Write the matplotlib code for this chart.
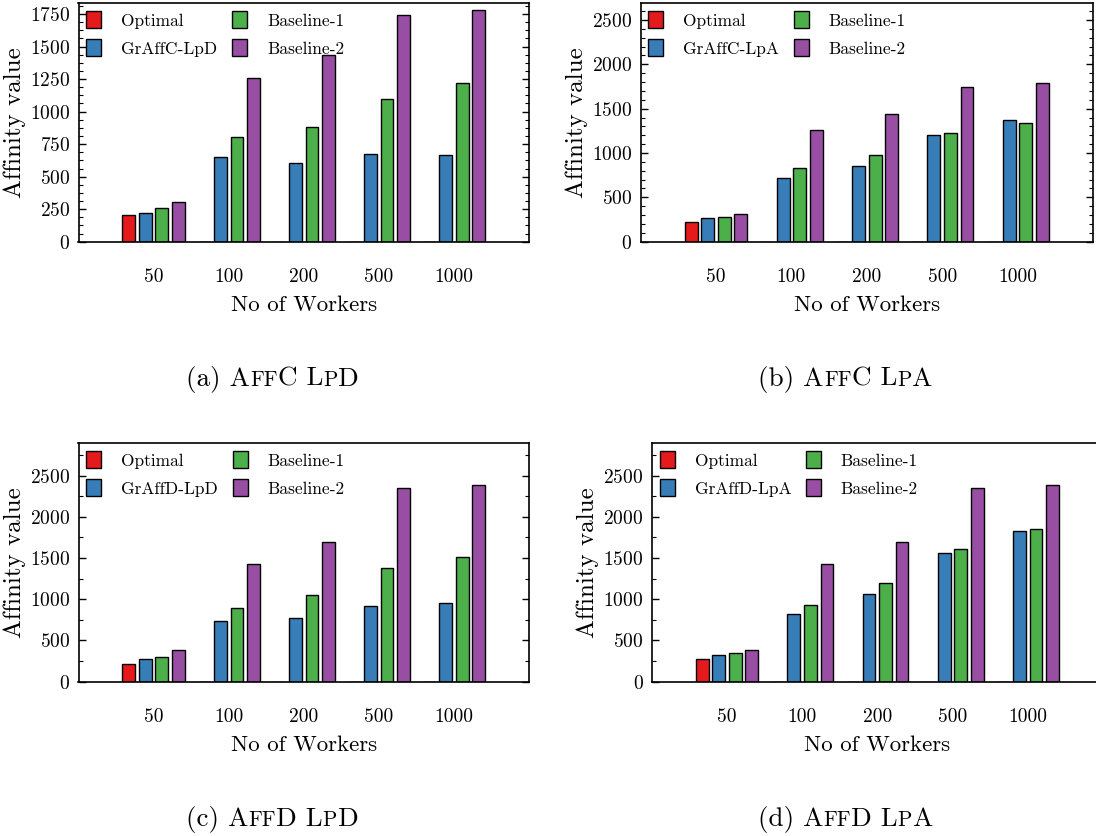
#!/usr/bin/env python3
"""
Affinity values of the four assignment variants for a growing number of workers.
"""

import matplotlib
matplotlib.use("Agg")
import matplotlib.pyplot as plt
from matplotlib.ticker import MultipleLocator, AutoMinorLocator

plt.rcParams['font.family'] = ['cmr10', 'DejaVu Serif']
plt.rcParams['mathtext.fontset'] = 'cm'
plt.rcParams['axes.formatter.use_mathtext'] = True

# Données
workers = ['50', '100', '200', '500', '1000']
series_colors = ['#e41a1c', '#377eb8', '#4daf4a', '#984ea3']

affc_lpd_labels = ['Optimal', 'GrAffC-LpD', 'Baseline-1', 'Baseline-2']
affc_lpd_optimal = [205, 0, 0, 0, 0]
affc_lpd_greedy = [218, 653, 607, 671, 666]
affc_lpd_base1 = [256, 802, 881, 1099, 1217]
affc_lpd_base2 = [305, 1258, 1432, 1742, 1781]

affc_lpa_labels = ['Optimal', 'GrAffC-LpA', 'Baseline-1', 'Baseline-2']
affc_lpa_optimal = [218, 0, 0, 0, 0]
affc_lpa_greedy = [267, 722, 857, 1203, 1376]
affc_lpa_base1 = [278, 835, 974, 1226, 1338]
affc_lpa_base2 = [308, 1263, 1436, 1748, 1793]

affd_lpd_labels = ['Optimal', 'GrAffD-LpD', 'Baseline-1', 'Baseline-2']
affd_lpd_optimal = [214, 0, 0, 0, 0]
affd_lpd_greedy = [271, 740, 769, 918, 955]
affd_lpd_base1 = [303, 898, 1056, 1379, 1513]
affd_lpd_base2 = [380, 1424, 1699, 2350, 2391]

affd_lpa_labels = ['Optimal', 'GrAffD-LpA', 'Baseline-1', 'Baseline-2']
affd_lpa_optimal = [271, 0, 0, 0, 0]
affd_lpa_greedy = [320, 817, 1068, 1561, 1828]
affd_lpa_base1 = [344, 926, 1197, 1614, 1857]
affd_lpa_base2 = [380, 1424, 1699, 2350, 2391]

FIG_W, FIG_H = 1096, 836
BAR_WIDTH = 0.17
BAR_STEP = 0.22


def px_box(left, top, right, bottom):
    """Convertit une boîte en pixels (origine en haut à gauche) en coordonnées figure."""
    return [left / FIG_W, 1 - bottom / FIG_H, (right - left) / FIG_W, (bottom - top) / FIG_H]


def draw_panel(fig, box, series, labels, ymax, major, n_minor):
    ax = fig.add_axes(box)
    x = list(range(len(workers)))
    for i, (values, label, color) in enumerate(zip(series, labels, series_colors)):
        offset = (i - 1.5) * BAR_STEP
        ax.bar([p + offset for p in x], values, BAR_WIDTH, color=color,
               edgecolor='black', linewidth=1.0, label=label, zorder=2)

    ax.set_xlim(-1, 5)
    ax.set_ylim(0, ymax)
    ax.set_xticks(x)
    ax.set_xticklabels(workers)
    ax.yaxis.set_major_locator(MultipleLocator(major))
    ax.yaxis.set_minor_locator(AutoMinorLocator(n_minor))

    ax.tick_params(axis='x', length=0, pad=19, labelsize=14)
    ax.tick_params(axis='y', which='both', direction='in', left=True, right=True,
                   pad=6, labelsize=14)
    ax.tick_params(axis='y', which='major', length=5, width=1.0)
    ax.tick_params(axis='y', which='minor', length=3, width=0.8)
    for spine in ax.spines.values():
        spine.set_linewidth(1.2)

    ax.set_xlabel('No of Workers', fontsize=16.5, labelpad=7)
    ax.set_ylabel('Affinity value', fontsize=18)
    # ancre = bas du texte tourné, à droite de l'étiquette
    ax.yaxis.set_label_coords(-0.117, 0.5)

    ax.legend(loc='upper left', ncol=2, frameon=False, fontsize=12.5,
              handlelength=0.86, handleheight=1.15, handletextpad=1.15,
              columnspacing=0.85, labelspacing=0.6, borderaxespad=0.3, borderpad=0.15)
    return ax


def draw_caption(fig, x_center, y_center, parts, size):
    """Légende de sous-figure en petites capitales (morceaux de tailles différentes)."""
    renderer = fig.canvas.get_renderer()
    texts = []
    for s, k in parts:
        t = fig.text(0, y_center / FIG_H, s, fontsize=size * k, va='baseline', ha='left')
        texts.append(t)
    widths = [t.get_window_extent(renderer).width for t in texts]
    x = x_center - sum(widths) / 2
    for t, w in zip(texts, widths):
        t.set_x(x / FIG_W)
        t.set_y(1 - y_center / FIG_H)
        x += w


def main():
    fig = plt.figure(figsize=(FIG_W / 100, FIG_H / 100), dpi=100)

    draw_panel(fig, px_box(78.5, 3.3, 529, 241.7),
               [affc_lpd_optimal, affc_lpd_greedy, affc_lpd_base1, affc_lpd_base2],
               affc_lpd_labels, 1832, 250, 4)
    draw_panel(fig, px_box(640.6, 3.3, 1093, 241.7),
               [affc_lpa_optimal, affc_lpa_greedy, affc_lpa_base1, affc_lpa_base2],
               affc_lpa_labels, 2688, 500, 5)
    draw_panel(fig, px_box(78.5, 443.3, 529, 681.7),
               [affd_lpd_optimal, affd_lpd_greedy, affd_lpd_base1, affd_lpd_base2],
               affd_lpd_labels, 2893, 500, 2)
    draw_panel(fig, px_box(651.8, 443.3, 1102.8, 681.7),
               [affd_lpa_optimal, affd_lpa_greedy, affd_lpa_base1, affd_lpa_base2],
               affd_lpa_labels, 2893, 500, 2)

    sc = 0.78
    draw_caption(fig, 272, 386, [('(a) A', 1), ('FF', sc), ('C L', 1), ('P', sc), ('D', 1)], 19.5)
    draw_caption(fig, 845, 386, [('(b) A', 1), ('FF', sc), ('C L', 1), ('P', sc), ('A', 1)], 19.5)
    draw_caption(fig, 272, 826, [('(c) A', 1), ('FF', sc), ('D L', 1), ('P', sc), ('D', 1)], 19.5)
    draw_caption(fig, 845, 826, [('(d) A', 1), ('FF', sc), ('D L', 1), ('P', sc), ('A', 1)], 19.5)

    fig.savefig('out.png', dpi=100)


if __name__ == '__main__':
    main()
